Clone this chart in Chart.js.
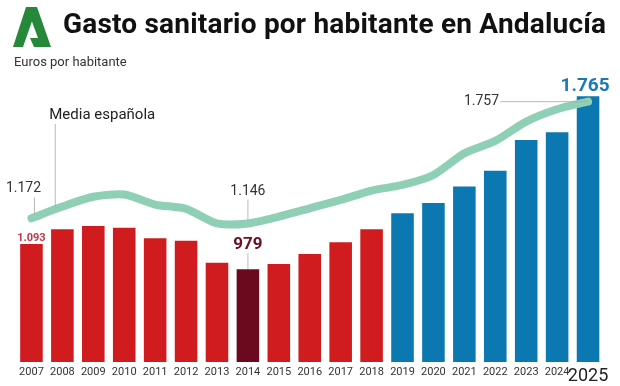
<!DOCTYPE html>
<html>
<head>
<meta charset="utf-8">
<script src="https://cdn.jsdelivr.net/npm/chart.js@4/dist/chart.umd.min.js"></script>
<style>
  html, body { margin: 0; padding: 0; background: #fff; }
  #wrap { position: relative; width: 620px; height: 386px; overflow: hidden; font-family: Roboto, "Noto Sans", sans-serif; }
  #c { position: absolute; left: 0; top: 0; }
  #logo { position: absolute; left: 13px; top: 7px; }
  #title { position: absolute; left: 63px; top: 7px; font-size: 28px; font-weight: 700; color: #111; white-space: nowrap; letter-spacing: 0.2px; }
  #sub { position: absolute; left: 14px; top: 54px; font-size: 13px; color: #333; white-space: nowrap; }
</style>
</head>
<body>
<div id="wrap">
  <canvas id="c" width="620" height="386"></canvas>
  <svg id="logo" width="40" height="40" viewBox="0 0 40 40">
    <polygon points="13,0 24,0 10,40 0,40" fill="#25883a"/>
    <polygon points="13,0 24,0 38,40 27,40 22,31 25,31 18,12" fill="#25883a"/>
    <polygon points="17,31 27,31 31,40 21,40" fill="#25883a"/>
  </svg>
  <div id="title">Gasto sanitario por habitante en Andalucía</div>
  <div id="sub">Euros por habitante</div>
</div>
<script>
// ---- data ----
const years = ['2007','2008','2009','2010','2011','2012','2013','2014','2015','2016','2017','2018','2019','2020','2021','2022','2023','2024','2025'];
const andalucia = [1093,1160,1175,1167,1119,1108,1008,979,1002,1048,1101,1160,1233,1280,1355,1426,1566,1601,1765];
const mediaEspanola = [1172,1231,1280,1291,1241,1219,1146,1146,1180,1222,1264,1311,1339,1389,1498,1560,1657,1719,1757];
const seriesLabels = ['Andalucía','Media española'];

const RED = '#d11c1f', MAROON = '#6b0a1f', BLUE = '#0b78b1', MINT = '#8fcfb6';
const barColors = years.map((y, i) => i === 7 ? MAROON : (i < 12 ? RED : BLUE));

const fmt = v => {
  const s = String(Math.round(v));
  return s.length > 3 ? s.slice(0, s.length - 3) + '.' + s.slice(-3) : s;
};

const annot = {
  id: 'annot',
  afterDatasetsDraw(chart) {
    const ctx = chart.ctx;
    const x = chart.scales.x, y = chart.scales.y, y2 = chart.scales.y2;
    const lead = (x1, y1, x2, y2p) => {
      ctx.save(); ctx.strokeStyle = '#a8a8a8'; ctx.lineWidth = 0.8;
      ctx.beginPath(); ctx.moveTo(x1, y1); ctx.lineTo(x2, y2p); ctx.stroke(); ctx.restore();
    };
    const text = (t, px, py, font, color, align, base) => {
      ctx.save(); ctx.font = font; ctx.fillStyle = color;
      ctx.textAlign = align || 'center'; ctx.textBaseline = base || 'middle';
      ctx.fillText(t, px, py); ctx.restore();
    };
    const F = 'Roboto, "Noto Sans", sans-serif';
    // 2007 bar value
    const b0x = x.getPixelForValue(0), b0y = y.getPixelForValue(andalucia[0]);
    text(fmt(andalucia[0]), b0x, b0y - 6, 'bold 11px ' + F, '#c53445');
    // 2014 bar value
    const b7x = x.getPixelForValue(7), b7y = y.getPixelForValue(andalucia[7]);
    lead(b7x, b7y - 16, b7x, b7y);
    text(fmt(andalucia[7]), b7x, b7y - 24, 'bold 17px ' + F, '#6a0f24');
    // 2025 bar value
    const bLx = x.getPixelForValue(18), bLy = y.getPixelForValue(andalucia[18]);
    text(fmt(andalucia[18]), bLx - 3, bLy - 10, 'bold 19px ' + F, '#1b7ab4');
    // line labels
    const l0x = x.getPixelForValue(0), l0y = y2.getPixelForValue(mediaEspanola[0]);
    lead(l0x + 3, l0y - 21, l0x + 3, l0y - 4);
    text(fmt(mediaEspanola[0]), l0x - 8, l0y - 30, '14px ' + F, '#333');
    const l7x = x.getPixelForValue(7), l7y = y2.getPixelForValue(mediaEspanola[7]);
    lead(l7x, l7y - 24, l7x, l7y - 3);
    text(fmt(mediaEspanola[7]), l7x, l7y - 32, '14px ' + F, '#333');
    const lLx = x.getPixelForValue(18), lLy = y2.getPixelForValue(mediaEspanola[18]);
    lead(lLx - 88, lLy, lLx, lLy);
    text(fmt(mediaEspanola[18]), lLx - 89, lLy, '14px ' + F, '#333', 'right');
    // series name
    const mx = l0x + 0.77 * (x.getPixelForValue(1) - l0x);
    const mv = mediaEspanola[0] + 0.77 * (mediaEspanola[1] - mediaEspanola[0]);
    lead(mx, 124, mx, y2.getPixelForValue(mv) - 3);
    text(seriesLabels[1], mx - 6, 115, '15px ' + F, '#222', 'left');
  }
};

new Chart(document.getElementById('c'), {
  data: {
    labels: years,
    datasets: [
      { type: 'line', label: seriesLabels[1], data: mediaEspanola, yAxisID: 'y2', order: 1,
        borderColor: MINT, borderWidth: 8, pointRadius: 0, tension: 0.25,
        borderCapStyle: 'round', borderJoinStyle: 'round', fill: false },
      { type: 'bar', label: seriesLabels[0], data: andalucia, yAxisID: 'y', order: 2,
        backgroundColor: barColors, barPercentage: 0.73, categoryPercentage: 1 }
    ]
  },
  options: {
    responsive: false,
    animation: false,
    layout: { padding: { left: 16, right: 16.5, top: 60, bottom: 0 } },
    plugins: { legend: { display: false }, tooltip: { enabled: false } },
    scales: {
      x: {
        grid: { display: false, drawTicks: false },
        border: { display: false },
        afterFit: s => { s.height = 24; },
        ticks: {
          padding: 4,
          autoSkip: false,
          maxRotation: 0,
          minRotation: 0,
          color: ctx => ctx.index === 18 ? '#222' : '#333',
          font: ctx => ctx.index === 18 ? { size: 18, family: 'Roboto' } : { size: 11, family: 'Roboto' }
        }
      },
      y: { display: false, min: 557, max: 1929.5 },
      y2: { display: false, min: 451, max: 1966 }
    }
  },
  plugins: [annot]
});
</script>
</body>
</html>
